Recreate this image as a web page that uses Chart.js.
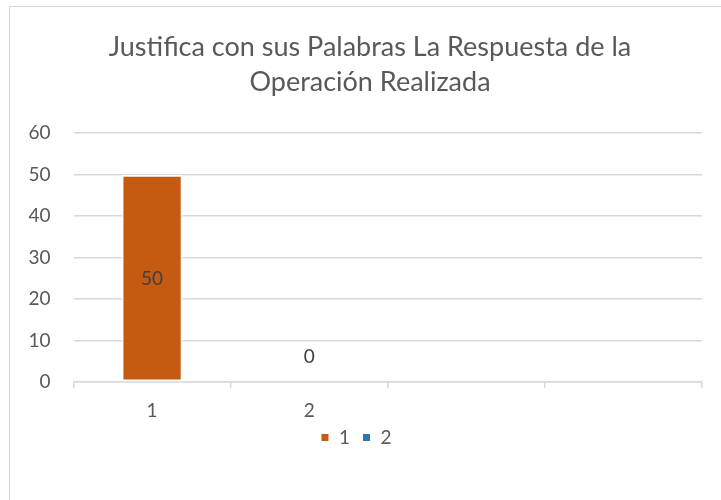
<!DOCTYPE html>
<html>
<head>
<meta charset="utf-8">
<script src="https://cdn.jsdelivr.net/npm/chart.js@4"></script>
<style>
  body { margin: 0; background: #fff; }
  #frame { position: absolute; left: 9px; top: 6px; width: 730px; height: 510px; border: 1px solid #d9d9d9; }
  #wrap { position: absolute; left: 0; top: 0; width: 721px; height: 500px; }
</style>
</head>
<body>
<div id="frame"></div>
<div id="wrap"><canvas id="myChart"></canvas></div>
<script>
const categories = ['1', '2', '', ''];
const serie1 = [50, null, null, null];
const serie2 = [null, 0, null, null];
const yTicks = [0, 10, 20, 30, 40, 50, 60];

const font = 'Lato, Carlito, Calibri, sans-serif';

// etiquetas de datos estilo Excel
const etiquetas = {
    id: 'etiquetas',
    afterDatasetsDraw(chart) {
        const ctx = chart.ctx;
        ctx.save();
        ctx.font = '19px ' + font;
        ctx.fillStyle = '#404040';
        ctx.textAlign = 'center';
        ctx.textBaseline = 'middle';
        chart.data.datasets.forEach((ds, i) => {
            chart.getDatasetMeta(i).data.forEach((bar, j) => {
                const v = ds.data[j];
                if (v === null) return;
                if (v > 0) ctx.fillText(v, bar.x, (bar.y + bar.base) / 2 + 1);
                else ctx.fillText(v, bar.x, bar.y - 25);
            });
        });
        ctx.restore();
    }
};

// el marco del grafico es mas ancho que la ventana: correr titulo y leyenda
const ajuste = {
    id: 'ajuste',
    afterLayout(chart) {
        chart.titleBlock.left += 38;
        chart.legend.left += 5;
        chart.legend.right += 5;
        chart.legend.top -= 17;
        chart.legend.bottom -= 17;
    }
};

const ctx = document.getElementById('myChart').getContext('2d');
new Chart(ctx, {
    type: 'bar',
    data: {
        labels: categories,
        datasets: [
            {
                label: '1',
                data: serie1,
                backgroundColor: '#C55A11',
                borderColor: '#ffffff',
                borderWidth: 2,
                borderSkipped: false,
                grouped: false,
                barPercentage: 0.39,
                categoryPercentage: 1
            },
            {
                label: '2',
                data: serie2,
                backgroundColor: '#2E75B6',
                borderColor: '#ffffff',
                borderWidth: 2,
                borderSkipped: false,
                grouped: false,
                barPercentage: 0.39,
                categoryPercentage: 1
            }
        ]
    },
    options: {
        responsive: true,
        maintainAspectRatio: false,
        animation: false,
        layout: { padding: { left: 0, right: 19, top: 0, bottom: 26 } },
        plugins: {
            title: {
                display: true,
                text: ['Justifica con sus Palabras La Respuesta de la', 'Operación Realizada'],
                color: '#595959',
                font: { family: font, size: 27, weight: 'normal', lineHeight: 1.3 },
                padding: { top: 30, bottom: 33 }
            },
            legend: {
                position: 'bottom',
                labels: {
                    color: '#595959',
                    font: { family: font, size: 19 },
                    boxWidth: 9,
                    boxHeight: 9,
                    padding: 12
                }
            },
            tooltip: { enabled: false }
        },
        scales: {
            x: {
                grid: { display: true, offset: true, drawOnChartArea: false, color: '#d9d9d9', tickLength: 6, lineWidth: 1.5 },
                border: { color: '#d9d9d9', width: 1.5 },
                ticks: { color: '#595959', font: { family: font, size: 19 }, padding: 11 }
            },
            y: {
                min: 0,
                max: 60,
                afterBuildTicks: axis => { axis.ticks = yTicks.map(v => ({ value: v })); },
                afterFit: axis => { axis.width = 73.5; },
                grid: { color: '#d9d9d9', drawTicks: false, lineWidth: 1.5 },
                border: { display: false },
                ticks: { color: '#595959', font: { family: font, size: 19 }, padding: 23 }
            }
        }
    },
    plugins: [etiquetas, ajuste]
});
</script>
</body>
</html>
